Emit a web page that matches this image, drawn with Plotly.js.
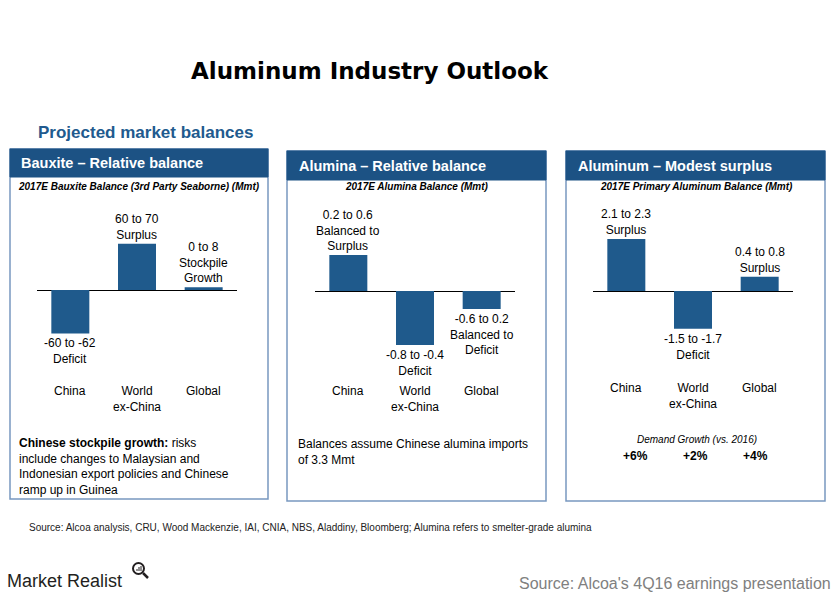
<!DOCTYPE html>
<html><head><meta charset="utf-8">
<script src="https://cdn.plot.ly/plotly-3.0.1.min.js"></script>
<style>html,body{margin:0;padding:0;background:#fff;} #chart{width:840px;height:599px;}</style>
</head><body><div id="chart"></div>
<script>
// ---- data ----
const categories = ["China", "World<br>ex-China", "Global"];
const bauxiteValues = [-61, 65, 4];
const bauxiteLabels = ["-60 to -62<br>Deficit", "60 to 70<br>Surplus", "0 to 8<br>Stockpile<br>Growth"];
const aluminaValues = [0.4, -0.6, -0.2];
const aluminaLabels = ["0.2 to 0.6<br>Balanced to<br>Surplus", "-0.8 to -0.4<br>Deficit", "-0.6 to 0.2<br>Balanced to<br>Deficit"];
const aluminumValues = [2.2, -1.6, 0.6];
const aluminumLabels = ["2.1 to 2.3<br>Surplus", "-1.5 to -1.7<br>Deficit", "0.4 to 0.8<br>Surplus"];
const demandGrowth = ["+6%", "+2%", "+4%"];
const panelTitles = ["Bauxite – Relative balance", "Alumina – Relative balance", "Aluminum – Modest surplus"];
const panelSubtitles = ["2017E Bauxite Balance (3rd Party Seaborne) (Mmt)", "2017E Alumina Balance (Mmt)", "2017E Primary Aluminum Balance (Mmt)"];

// ---- layout helpers ----
const W = 840, H = 599;
const px = x => x / W;
const py = y => 1 - y / H;
const FONT = "Liberation Sans, Arial, sans-serif";
const HEADER = "#1C5284", BAR = "#1F5A8C", BORDER = "#7898C0";

const panels = [
  {box:[10,149,268,499], hb:177, ty:163, tx:19, sx:139, plotX:[37,237], zero:290, scale:0.712, values:bauxiteValues, labels:bauxiteLabels, catTop:382},
  {box:[287,151,546,501], hb:180, ty:166, tx:297, sx:417, plotX:[315,515], zero:291, scale:90, values:aluminaValues, labels:aluminaLabels, catTop:382},
  {box:[566,151,825,501], hb:180, ty:166, tx:576, sx:696, plotX:[593,793], zero:291, scale:23.6, values:aluminumValues, labels:aluminumLabels, catTop:379}
];
const domTop = 195, domBot = 385;

const data = [], shapes = [], annotations = [];
const layout = {
  width: W, height: H, margin:{l:0,r:0,t:0,b:0}, paper_bgcolor:"#fff", plot_bgcolor:"rgba(0,0,0,0)",
  showlegend:false, bargap:0.43, font:{family:FONT, size:12, color:"#000"}
};

function ann(text, x, y, o) {
  annotations.push(Object.assign({text, x:px(x), y:py(y), xref:"paper", yref:"paper", showarrow:false,
    xanchor:"center", yanchor:"middle", font:{family:FONT, size:12, color:"#000"}}, o||{}));
}

panels.forEach((p, k) => {
  const s = k === 0 ? "" : String(k+1);
  const xs = categories.map((c,i) => i);
  data.push({type:"bar", x:xs, y:p.values, xaxis:"x"+s, yaxis:"y"+s, marker:{color:BAR}, hoverinfo:"skip"});
  layout["xaxis"+s] = {domain:[px(p.plotX[0]), px(p.plotX[1])], range:[-0.5,2.5], visible:false, fixedrange:true, anchor:"y"+s};
  layout["yaxis"+s] = {domain:[py(domBot), py(domTop)], range:[-(domBot-p.zero)/p.scale, (p.zero-domTop)/p.scale],
    showgrid:false, showticklabels:false, ticks:"", zeroline:true, zerolinecolor:"#000", zerolinewidth:1, showline:false, fixedrange:true, anchor:"x"+s};
  // box & header
  shapes.push({type:"rect", xref:"paper", yref:"paper", x0:px(p.box[0]), x1:px(p.box[2]), y0:py(p.box[3]), y1:py(p.box[1]), line:{color:BORDER, width:1.5}, fillcolor:"rgba(0,0,0,0)"});
  shapes.push({type:"rect", xref:"paper", yref:"paper", x0:px(p.box[0]), x1:px(p.box[2]), y0:py(p.hb), y1:py(p.box[1]), line:{color:HEADER, width:1}, fillcolor:HEADER});
  ann("<b>"+panelTitles[k]+"</b>", p.tx, p.ty, {xanchor:"left", font:{family:FONT, size:14.5, color:"#fff"}});
  ann("<b><i>"+panelSubtitles[k]+"</i></b>", p.sx, 186, {font:{family:FONT, size:10, color:"#000"}});
  // value labels and categories
  p.values.forEach((v, i) => {
    annotations.push({text:p.labels[i], x:i, y:v, xref:"x"+s, yref:"y"+s, showarrow:false, xanchor:"center",
      yanchor: v >= 0 ? "bottom" : "top", yshift: v >= 0 ? 0 : -1, font:{family:FONT, size:12, color:"#000"}});
    annotations.push({text:categories[i], x:i, y:py(p.catTop), xref:"x"+s, yref:"paper", showarrow:false, xanchor:"center",
      yanchor:"top", font:{family:FONT, size:12, color:"#000"}});
  });
});

// panel body texts
ann("<b>Chinese stockpile growth:</b> risks<br>include changes to Malaysian and<br>Indonesian export policies and Chinese<br>ramp up in Guinea", 17, 434, {xanchor:"left", yanchor:"top", align:"left"});
ann("Balances assume Chinese alumina imports<br>of 3.3 Mmt", 296, 435, {xanchor:"left", yanchor:"top", align:"left"});
ann("<i>Demand Growth (vs. 2016)</i>", 697, 440, {font:{family:FONT, size:10, color:"#000"}});
const growthShift = [9, 2, -4];
demandGrowth.forEach((g, i) => {
  annotations.push({text:"<b>"+g+"</b>", x:i, y:py(456), xref:"x3", yref:"paper", xshift:growthShift[i], showarrow:false,
    xanchor:"center", yanchor:"middle", font:{family:FONT, size:12, color:"#000"}});
});

// titles & footer
ann("<b>Aluminum Industry Outlook</b>", 370, 71, {font:{family:"DejaVu Sans, sans-serif", size:23, color:"#000"}});
ann("<b>Projected market balances</b>", 36, 132, {xanchor:"left", font:{family:FONT, size:17, color:"#215A8E"}});
ann("Source: Alcoa analysis, CRU, Wood Mackenzie, IAI, CNIA, NBS, Aladdiny, Bloomberg; Alumina refers to smelter-grade alumina", 27, 527, {xanchor:"left", font:{family:FONT, size:10, color:"#222"}});
ann("Market Realist", 5, 581, {xanchor:"left", font:{family:FONT, size:18, color:"#231f20"}});
ann("Source: Alcoa's 4Q16 earnings presentation", 833, 583, {xanchor:"right", font:{family:FONT, size:16, color:"#808080"}});
// magnifier icon
shapes.push({type:"circle", xref:"paper", yref:"paper", x0:px(133), x1:px(144), y0:py(574), y1:py(563), line:{color:"#231f20", width:2}});
shapes.push({type:"line", xref:"paper", yref:"paper", x0:px(143), x1:px(148), y0:py(573), y1:py(578), line:{color:"#231f20", width:2.5}});
shapes.push({type:"line", xref:"paper", yref:"paper", x0:px(137), x1:px(137), y0:py(571), y1:py(569), line:{color:"#231f20", width:1}});
shapes.push({type:"line", xref:"paper", yref:"paper", x0:px(139), x1:px(139), y0:py(571), y1:py(567), line:{color:"#231f20", width:1}});
shapes.push({type:"line", xref:"paper", yref:"paper", x0:px(141), x1:px(141), y0:py(571), y1:py(566), line:{color:"#231f20", width:1}});

layout.shapes = shapes;
layout.annotations = annotations;
Plotly.newPlot("chart", data, layout, {displayModeBar:false, staticPlot:true});
</script>
</body></html>
